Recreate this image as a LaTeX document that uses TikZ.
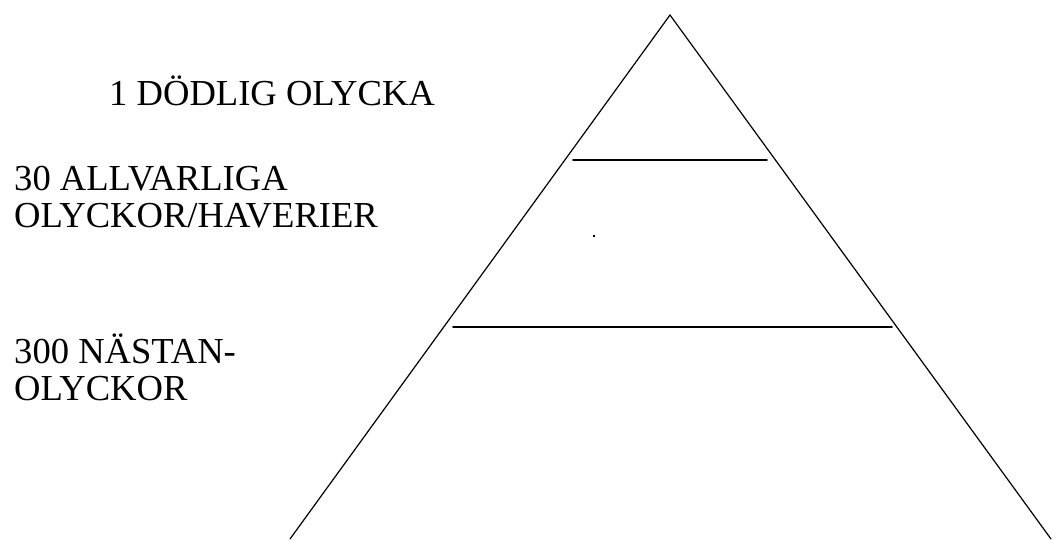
\documentclass[tikz,border=0pt]{standalone}
\usepackage{fontspec}
\setmainfont{Liberation Serif}
\begin{document}
\begin{tikzpicture}[x=1pt, y=-1pt, line cap=round,
    side/.style={line width=1.2pt},
    level/.style={line width=1.7pt},
    label/.style={anchor=base west, inner sep=0pt, align=left,
      font=\fontsize{36.6}{37}\selectfont}]
  \useasboundingbox (0,0) rectangle (1059,539);
  % pyramid
  \coordinate (apex) at (670,15);
  \coordinate (baseL) at (290,539);
  \coordinate (baseR) at (1051,539);
  \draw[side] (baseL) -- (apex) -- (baseR);
  % level lines
  \coordinate (topL) at (573,160);
  \coordinate (topR) at (767,160);
  \coordinate (midL) at (453,327);
  \coordinate (midR) at (892,327);
  \draw[level] (topL) -- (topR);
  \draw[level] (midL) -- (midR);
  \fill (593,235) rectangle (595,237);
  % labels (base = last line)
  \node[label] (fatal) at (109,105) {1 DÖDLIG OLYCKA};
  \node[label] (serious) at (14,227) {30 ALLVARLIGA\\OLYCKOR/HAVERIER};
  \node[label] (near) at (14,400) {300 NÄSTAN-\\OLYCKOR};
\end{tikzpicture}
\end{document}
